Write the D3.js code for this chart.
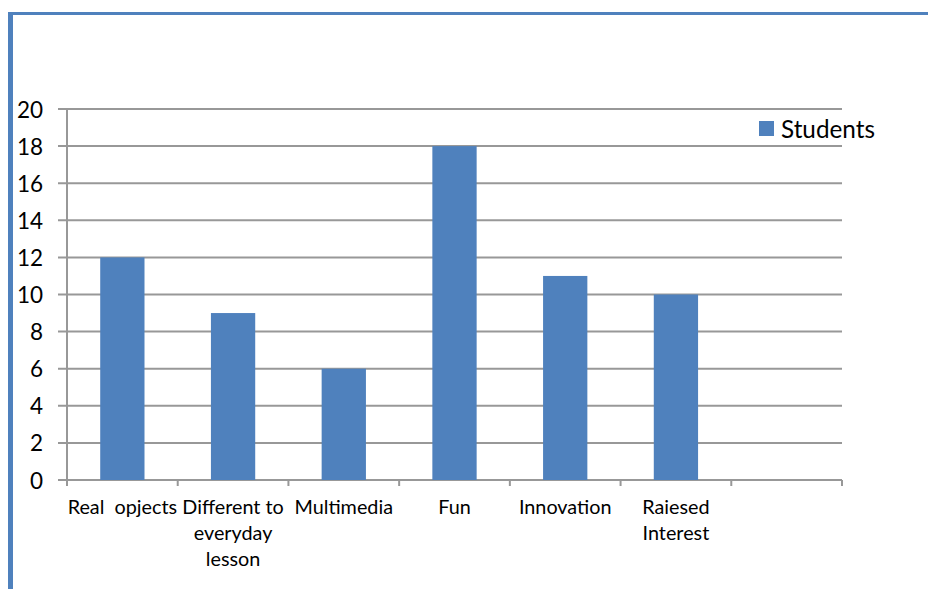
<!DOCTYPE html>
<html>
<head>
<meta charset="utf-8">
<script src="https://cdn.jsdelivr.net/npm/d3@7"></script>
<style>
  html, body { margin: 0; padding: 0; background: #fff; }
  svg { display: block; }
  text { font-family: Lato, "Open Sans", sans-serif; fill: #000; }
</style>
</head>
<body>
<svg id="chart" width="928" height="589"></svg>
<script>
// Category labels (each inner array is one wrapped line set); last slot is empty
const categories = [
  ["Real  opjects"],
  ["Different to", "everyday", "lesson"],
  ["Multimedia"],
  ["Fun"],
  ["Innovation"],
  ["Raiesed", "Interest"],
  [""]
];
const students = [12, 9, 6, 18, 11, 10, null];
const yTicks = [0, 2, 4, 6, 8, 10, 12, 14, 16, 18, 20];
const seriesName = "Students";

const svg = d3.select("#chart");
const blue = "#4f81bd";
const grid = "#989898";

const plotL = 67, plotR = 842, plotT = 109, plotB = 480;

// Frame edges
svg.append("rect").attr("x", 8).attr("y", 12).attr("width", 920).attr("height", 3).attr("fill", blue);
svg.append("rect").attr("x", 8).attr("y", 12).attr("width", 5).attr("height", 577).attr("fill", blue);

const ids = categories.map((d, i) => i);
const x = d3.scaleBand().domain(ids).range([plotL, plotR]).padding(0);
const y = d3.scaleLinear().domain([0, 20]).range([plotB, plotT]);

// Horizontal gridlines with tick marks and labels
const gy = svg.append("g");
gy.selectAll("line").data(yTicks).enter().append("line")
  .attr("x1", plotL - 9).attr("x2", plotR)
  .attr("y1", d => y(d)).attr("y2", d => y(d))
  .attr("stroke", grid).attr("stroke-width", 2);
gy.selectAll("text").data(yTicks).enter().append("text")
  .attr("x", 43).attr("y", d => y(d))
  .attr("text-anchor", "end").attr("dominant-baseline", "central")
  .attr("font-size", 22.5)
  .text(d => d);

// Vertical axis line
svg.append("line").attr("x1", plotL).attr("x2", plotL).attr("y1", plotT).attr("y2", plotB + 6)
  .attr("stroke", grid).attr("stroke-width", 2);

// Bars
svg.append("g").selectAll("rect")
  .data(students.map((v, i) => ({ i, v })).filter(d => d.v != null))
  .enter().append("rect")
  .attr("x", d => x(d.i) + x.bandwidth() * 0.3)
  .attr("width", x.bandwidth() * 0.4)
  .attr("y", d => y(d.v))
  .attr("height", d => y(0) - y(d.v))
  .attr("fill", blue);

// Category boundary ticks
const bounds = ids.map(i => x(i)).concat([plotR]);
svg.append("g").selectAll("line").data(bounds).enter().append("line")
  .attr("x1", d => d).attr("x2", d => d)
  .attr("y1", plotB).attr("y2", plotB + 6)
  .attr("stroke", grid).attr("stroke-width", 2);

// Category labels
const lab = svg.append("g");
categories.forEach((lines, i) => {
  const cx = x(i) + x.bandwidth() / 2;
  const t = lab.append("text")
    .attr("x", cx)
    .attr("y", 514)
    .attr("text-anchor", "middle")
    .attr("font-size", 19.8)
    .style("white-space", "pre");
  lines.forEach((ln, k) => {
    t.append("tspan").attr("x", cx)
      .attr("dy", k === 0 ? 0 : 26).text(ln);
  });
});

// Legend
svg.append("rect").attr("x", 759).attr("y", 121).attr("width", 15).attr("height", 15).attr("fill", blue);
svg.append("text").attr("x", 781).attr("y", 128).attr("dominant-baseline", "central")
  .attr("font-size", 24.3).text(seriesName);
</script>
</body>
</html>
